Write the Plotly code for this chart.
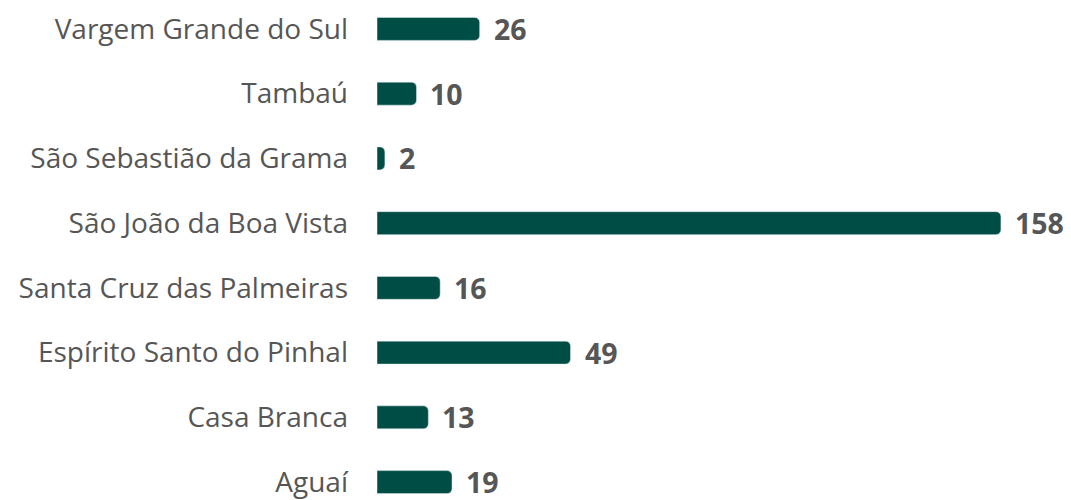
import plotly.graph_objects as go

cities = ["Aguaí", "Casa Branca", "Espírito Santo do Pinhal", "Santa Cruz das Palmeiras",
          "São João da Boa Vista", "São Sebastião da Grama", "Tambaú", "Vargem Grande do Sul"]
values = [19, 13, 49, 16, 158, 2, 10, 26]

BAR = "#004d45"
TXT = "#565656"

fig = go.Figure(go.Bar(
    x=values, y=cities, orientation="h",
    marker=dict(color=BAR, cornerradius=5),
    width=0.355, hoverinfo="skip",
))
for c, v in zip(cities, values):
    fig.add_annotation(x=v, y=c, text=f"<b>{v}</b>", showarrow=False,
                       xanchor="left", yanchor="middle", xshift=12,
                       font=dict(family="Open Sans", size=28.5, color=TXT))

fig.update_layout(
    width=1063, height=492,
    margin=dict(l=369, r=0, t=0, b=0),
    paper_bgcolor="white", plot_bgcolor="white",
    showlegend=False,
    xaxis=dict(range=[0, 694 / 3.949], visible=False),
    yaxis=dict(range=[-0.23, 7.323], showgrid=False, zeroline=False, showline=False,
               ticks="", ticklabelstandoff=28,
               tickfont=dict(family="Open Sans", size=28, color=TXT)),
)
fig.write_html("out.html")
